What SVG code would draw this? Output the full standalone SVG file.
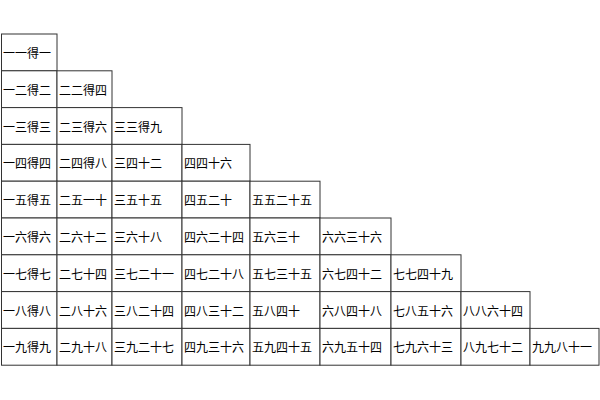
<svg xmlns="http://www.w3.org/2000/svg" width="600" height="400" viewBox="0 0 600 400">
<style>
rect{fill:#fff;stroke:#333;stroke-width:1}
text{font-family:"Noto Sans CJK SC",sans-serif;font-size:12px;fill:#000;dominant-baseline:central}
</style>
<rect x="0" y="0" width="600" height="400" style="stroke:none"/>
<g id="cells">
<g id="r1"><rect x="1.5" y="34" width="55.5" height="36.8"/><text x="3" y="52.4">一一得一</text></g>
<g id="r2"><rect x="1.5" y="70.8" width="55.5" height="36.8"/><text x="3" y="89.2">一二得二</text><rect x="57" y="70.8" width="55" height="36.8"/><text x="59" y="89.2">二二得四</text></g>
<g id="r3"><rect x="1.5" y="107.6" width="55.5" height="36.8"/><text x="3" y="126">一三得三</text><rect x="57" y="107.6" width="55" height="36.8"/><text x="59" y="126">二三得六</text><rect x="112" y="107.6" width="70" height="36.8"/><text x="114" y="126">三三得九</text></g>
<g id="r4"><rect x="1.5" y="144.4" width="55.5" height="36.8"/><text x="3" y="162.8">一四得四</text><rect x="57" y="144.4" width="55" height="36.8"/><text x="59" y="162.8">二四得八</text><rect x="112" y="144.4" width="70" height="36.8"/><text x="114" y="162.8">三四十二</text><rect x="182" y="144.4" width="68" height="36.8"/><text x="184" y="162.8">四四十六</text></g>
<g id="r5"><rect x="1.5" y="181.2" width="55.5" height="36.8"/><text x="3" y="199.6">一五得五</text><rect x="57" y="181.2" width="55" height="36.8"/><text x="59" y="199.6">二五一十</text><rect x="112" y="181.2" width="70" height="36.8"/><text x="114" y="199.6">三五十五</text><rect x="182" y="181.2" width="68" height="36.8"/><text x="184" y="199.6">四五二十</text><rect x="250" y="181.2" width="70" height="36.8"/><text x="252" y="199.6">五五二十五</text></g>
<g id="r6"><rect x="1.5" y="218" width="55.5" height="36.8"/><text x="3" y="236.4">一六得六</text><rect x="57" y="218" width="55" height="36.8"/><text x="59" y="236.4">二六十二</text><rect x="112" y="218" width="70" height="36.8"/><text x="114" y="236.4">三六十八</text><rect x="182" y="218" width="68" height="36.8"/><text x="184" y="236.4">四六二十四</text><rect x="250" y="218" width="70" height="36.8"/><text x="252" y="236.4">五六三十</text><rect x="320" y="218" width="71" height="36.8"/><text x="322" y="236.4">六六三十六</text></g>
<g id="r7"><rect x="1.5" y="254.8" width="55.5" height="36.8"/><text x="3" y="273.2">一七得七</text><rect x="57" y="254.8" width="55" height="36.8"/><text x="59" y="273.2">二七十四</text><rect x="112" y="254.8" width="70" height="36.8"/><text x="114" y="273.2">三七二十一</text><rect x="182" y="254.8" width="68" height="36.8"/><text x="184" y="273.2">四七二十八</text><rect x="250" y="254.8" width="70" height="36.8"/><text x="252" y="273.2">五七三十五</text><rect x="320" y="254.8" width="71" height="36.8"/><text x="322" y="273.2">六七四十二</text><rect x="391" y="254.8" width="70" height="36.8"/><text x="393" y="273.2">七七四十九</text></g>
<g id="r8"><rect x="1.5" y="291.6" width="55.5" height="36.8"/><text x="3" y="310">一八得八</text><rect x="57" y="291.6" width="55" height="36.8"/><text x="59" y="310">二八十六</text><rect x="112" y="291.6" width="70" height="36.8"/><text x="114" y="310">三八二十四</text><rect x="182" y="291.6" width="68" height="36.8"/><text x="184" y="310">四八三十二</text><rect x="250" y="291.6" width="70" height="36.8"/><text x="252" y="310">五八四十</text><rect x="320" y="291.6" width="71" height="36.8"/><text x="322" y="310">六八四十八</text><rect x="391" y="291.6" width="70" height="36.8"/><text x="393" y="310">七八五十六</text><rect x="461" y="291.6" width="69" height="36.8"/><text x="463" y="310">八八六十四</text></g>
<g id="r9"><rect x="1.5" y="328.4" width="55.5" height="36.8"/><text x="3" y="346.8">一九得九</text><rect x="57" y="328.4" width="55" height="36.8"/><text x="59" y="346.8">二九十八</text><rect x="112" y="328.4" width="70" height="36.8"/><text x="114" y="346.8">三九二十七</text><rect x="182" y="328.4" width="68" height="36.8"/><text x="184" y="346.8">四九三十六</text><rect x="250" y="328.4" width="70" height="36.8"/><text x="252" y="346.8">五九四十五</text><rect x="320" y="328.4" width="71" height="36.8"/><text x="322" y="346.8">六九五十四</text><rect x="391" y="328.4" width="70" height="36.8"/><text x="393" y="346.8">七九六十三</text><rect x="461" y="328.4" width="69" height="36.8"/><text x="463" y="346.8">八九七十二</text><rect x="530" y="328.4" width="69" height="36.8"/><text x="532" y="346.8">九九八十一</text></g>
</g>
<g id="connectors"/>
</svg>
